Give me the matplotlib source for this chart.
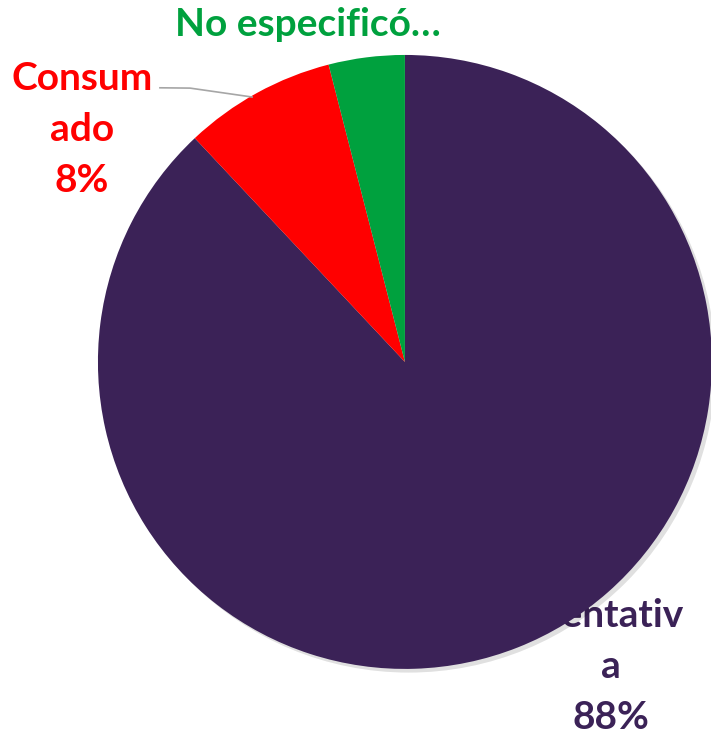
import matplotlib.pyplot as plt

labels = ['Tentativa', 'Consumado', 'No especificó']
values = [88, 8, 4]
colors = ['#3b2257', '#ff0000', '#00a13e']
label_texts = ['Tentativ\na\n88%', 'Consum\nado\n8%', 'No especificó…']

fig = plt.figure(figsize=(7.11, 7.34), dpi=100)
ax = fig.add_axes([0, 0, 1, 1])

wedges, _ = ax.pie(values, colors=colors, startangle=90, counterclock=False,
                   radius=1, center=(0, 0), wedgeprops=dict(linewidth=0, zorder=3))

# soft shadow under the pie
shadow = plt.Circle((0.012, -0.012), 1.0, color='#000000', alpha=0.12, zorder=2, lw=0)
ax.add_patch(shadow)

ax.set_xlim(-1.319, 0.997)
ax.set_ylim(-1.212, 1.179)
ax.set_aspect('equal')
ax.axis('off')

font = dict(family=['Lato', 'DejaVu Sans'], fontweight='bold', fontsize=28,
            ha='center', va='center', linespacing=1.55)

# label for big slice sits under the pie
ax.text(0.671, -0.993, label_texts[0], color=colors[0], zorder=1, **font)
ax.text(-1.053, 0.757, label_texts[1], color=colors[1], zorder=4, **font)
ax.text(-0.316, 1.098, label_texts[2], color=colors[2], zorder=4, **font)

# leader line for Consumado
ax.plot([-0.798, -0.70, -0.498], [0.893, 0.892, 0.863], color='#a6a6a6', lw=1.2, zorder=4)

fig.savefig('out.png', dpi=100)
